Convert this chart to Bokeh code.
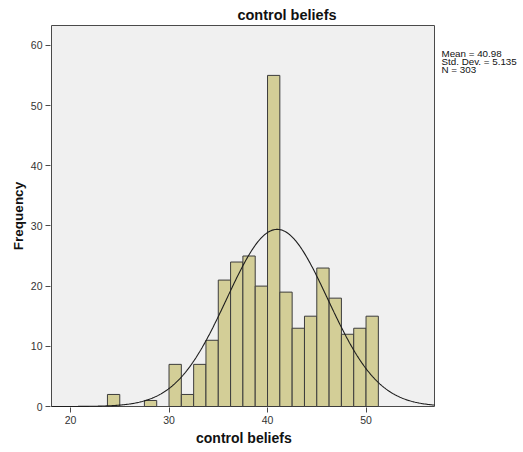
import numpy as np
from bokeh.plotting import figure
from bokeh.models import Range1d, Label, FixedTicker, Title, BoxAnnotation
from bokeh.embed import file_html
from bokeh.resources import INLINE

# ---- data ----
bin_starts = [23.75, 27.5, 30.0, 31.25, 32.5, 33.75, 35.0, 36.25, 37.5, 38.75,
              40.0, 41.25, 42.5, 43.75, 45.0, 46.25, 47.5, 48.75, 50.0]
counts = [2, 1, 7, 2, 7, 11, 21, 24, 25, 20, 55, 19, 13, 15, 23, 18, 12, 13, 15]
bin_width = 1.25
mean_val = 40.98
std_val = 5.135
n_val = 303
x_ticks = [20, 30, 40, 50]
y_ticks = [0, 10, 20, 30, 40, 50, 60]
title_text = "control beliefs"
x_label = "control beliefs"
y_label = "Frequency"
stats_lines = ["Mean = 40.98", "Std. Dev. = 5.135", "N = 303"]

FONT = "Liberation Sans"
# visible plot area (data units)
X0, X1 = 18.07, 56.95
Y0, Y1 = 0.0, 63.29

W, H = 523, 452
F_LEFT, F_TOP, F_BOTTOM = 50, 24, 407     # canvas frame (pixels)
AX_LEFT_PX, AX_RIGHT_PX = 51, 434          # visible area left/right (pixels)
AX_TOP_PX, AX_BOT_PX = 25, 406
xpp = (AX_RIGHT_PX - AX_LEFT_PX) / (X1 - X0)   # px per x unit
ypp = (AX_BOT_PX - AX_TOP_PX) / (Y1 - Y0)      # px per y unit


def xd(px):
    return X0 + (px - AX_LEFT_PX) / xpp


def yd(py):
    return Y0 + (AX_BOT_PX - py) / ypp


p = figure(width=W, height=H, output_backend="svg", toolbar_location=None,
           x_range=Range1d(xd(F_LEFT), xd(W)), y_range=Range1d(yd(F_BOTTOM), yd(F_TOP)),
           min_border_left=F_LEFT, min_border_right=0, min_border_top=F_TOP,
           min_border_bottom=H - F_BOTTOM)

p.background_fill_color = "white"
p.border_fill_color = "white"
p.outline_line_color = None
p.xgrid.visible = False
p.ygrid.visible = False

p.add_layout(BoxAnnotation(left=X0, right=X1, bottom=Y0, top=Y1,
                           fill_color="#F0F0F0", fill_alpha=1.0,
                           line_color="#4a4a4a", line_width=1, line_alpha=1.0,
                           level="underlay"))

p.add_layout(Title(text=title_text, align="center", standoff=4,
                   text_font=FONT, text_font_size="14.5px", text_font_style="bold",
                   text_color="#111111"), "above")

lefts = list(bin_starts)
rights = [b + bin_width for b in bin_starts]
p.quad(left=lefts, right=rights, bottom=0, top=counts,
       fill_color="#D3CE97", line_color="#3c3c3c", line_width=1)

xs = np.linspace(X0, X1, 500)
ys = n_val * bin_width / (std_val * np.sqrt(2 * np.pi)) * np.exp(-0.5 * ((xs - mean_val) / std_val) ** 2)
p.line(xs, ys, line_color="#1e1e1e", line_width=1.1)

p.xaxis.ticker = FixedTicker(ticks=x_ticks)
p.yaxis.ticker = FixedTicker(ticks=y_ticks)
for ax in (p.xaxis, p.yaxis):
    ax.minor_tick_line_color = None
    ax.major_tick_out = 5
    ax.major_tick_in = 0
    ax.axis_line_color = None
    ax.major_tick_line_color = "#4a4a4a"
    ax.major_label_text_font = FONT
    ax.major_label_text_font_size = "10.5px"
    ax.major_label_text_color = "#333333"
    ax.axis_label_text_font = FONT
    ax.axis_label_text_font_size = "13.5px"
    ax.axis_label_text_font_style = "bold"
    ax.axis_label_text_color = "#111111"
p.yaxis.axis_label = y_label
p.xaxis.major_label_standoff = 3
p.yaxis.major_label_standoff = 3
p.yaxis.axis_label_standoff = 2

# x-axis title centred under the visible plot area
x_title_center = (AX_LEFT_PX + AX_RIGHT_PX) / 2
p.add_layout(Title(text=x_label, align="left",
                   offset=x_title_center - F_LEFT - 47, standoff=2,
                   text_font=FONT, text_font_size="14px", text_font_style="bold",
                   text_color="#111111"), "below")

# statistics text to the right of the plot area
stat_base = [53.3, 60.9, 68.5]
for t, yy in zip(stats_lines, stat_base):
    p.add_layout(Label(x=xd(441), y=yd(yy), text=t, text_align="left",
                       text_baseline="alphabetic", text_font=FONT,
                       text_font_size="9.8px", text_color="#111111"))

open("out.html", "w").write(file_html(p, INLINE))
